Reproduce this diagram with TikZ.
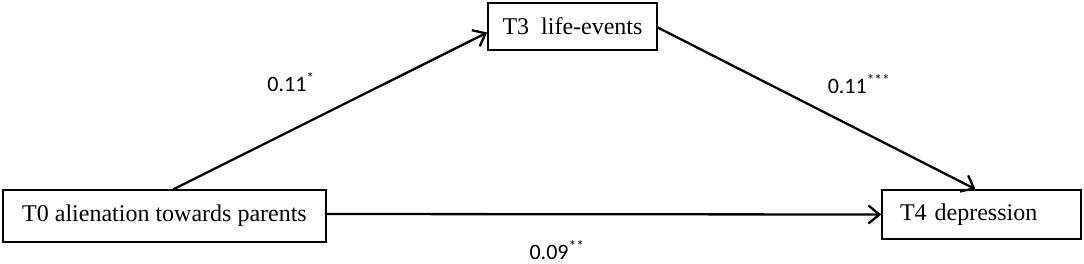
\documentclass[tikz,border=0pt]{standalone}
\usepackage{fontspec}
\setmainfont{Liberation Serif}
\newfontfamily\labelfont{Carlito}
\usetikzlibrary{arrows.meta, calc}

\begin{document}
\begin{tikzpicture}[x=1pt, y=-1pt, line width=2.3pt,
      box/.style={draw, line width=1.5pt, inner sep=0pt, font=\fontsize{24}{28}\selectfont},
      path/.style={-{Straight Barb[length=11pt, width=18pt, line width=2.3pt]}},
      coef/.style={font=\labelfont\fontsize{22}{26}\selectfont}]
    \useasboundingbox (0,0) rectangle (1084,263);
    \node[box, minimum width=323pt, minimum height=52pt] (t0) at (164.5,216) {T0 alienation towards parents};
    \node[box, minimum width=169pt, minimum height=47pt] (t3) at (572.5,26.5) {T3\ \ life-events};
    \node[box, minimum width=199pt, minimum height=49pt, text width=163pt, align=left] (t4) at (981.5,214.5) {T4 depression};
    \draw[path] ([xshift=9pt]t0.north) -- ([yshift=-6pt]t3.west);
    \draw[path] ([yshift=-1pt]t3.east) -- ([xshift=-6pt]t4.north);
    \draw[path] ([yshift=2pt]t0.east) -- (t4.west);
    \node[coef] (a) at (291,82) {0.11\textsuperscript{*}};
    \node[coef] (b) at (859,84) {0.11\textsuperscript{***}};
    \node[coef] (c) at (557,250) {0.09\textsuperscript{**}};
  \end{tikzpicture}
\end{document}
